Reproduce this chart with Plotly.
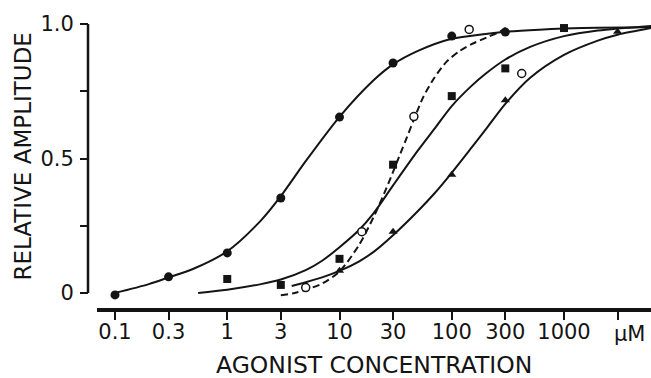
import plotly.graph_objects as go

# ---------------- data ----------------
# measured points
circ_x = [0.1, 0.3, 1, 3, 10, 30, 100, 300]
circ_y = [-0.007, 0.06, 0.149, 0.353, 0.654, 0.855, 0.955, 0.97]

sq_x = [1, 3, 10, 30, 100, 300, 1000]
sq_y = [0.052, 0.03, 0.127, 0.477, 0.732, 0.835, 0.985]

tri_x = [10, 30, 100, 300, 3000]
tri_y = [0.083, 0.228, 0.44, 0.717, 0.971]

open_x = [5, 15.8, 46, 143, 420]
open_y = [0.02, 0.228, 0.656, 0.98, 0.816]

# fitted curves
curve_a_x = [0.1, 0.2, 0.3, 0.5, 1, 2, 3, 5, 10, 20, 30, 50, 100, 200, 300, 600, 1000, 2000, 6000]
curve_a_y = [0.0, 0.033, 0.058, 0.09, 0.155, 0.27, 0.36, 0.49, 0.655, 0.79, 0.85, 0.9, 0.945, 0.963,
             0.971, 0.979, 0.983, 0.986, 0.988]

curve_b_x = [0.55, 1, 2, 3, 5, 7, 10, 15, 20, 30, 50, 70, 100, 150, 200, 300, 500, 1000, 2000, 6000]
curve_b_y = [0.0, 0.012, 0.033, 0.05, 0.085, 0.12, 0.17, 0.235, 0.295, 0.40, 0.53, 0.61, 0.695,
             0.77, 0.815, 0.868, 0.915, 0.955, 0.976, 0.993]

curve_c_x = [3.75, 5, 7, 10, 15, 20, 30, 50, 70, 100, 150, 200, 300, 500, 1000, 2000, 3000, 6000]
curve_c_y = [0.026, 0.04, 0.058, 0.082, 0.118, 0.152, 0.215, 0.305, 0.37, 0.447, 0.54, 0.607,
             0.703, 0.8, 0.885, 0.938, 0.96, 0.985]

curve_d_x = [3, 4, 5, 7, 10, 15, 20, 25, 30, 35, 40, 46, 56, 70, 90, 118, 150, 205, 270, 320]
curve_d_y = [-0.008, 0.0, 0.012, 0.035, 0.08, 0.18, 0.28, 0.37, 0.45, 0.52, 0.58, 0.645, 0.73,
             0.8, 0.86, 0.9, 0.925, 0.95, 0.972, 0.993]

x_tick_vals = [0.1, 0.3, 1, 3, 10, 30, 100, 300, 1000, 3000]
x_tick_text = ["0.1", "0.3", "1", "3", "10", "30", "100", "300", "1000", ""]
unit_label = "μM"
y_tick_vals = [0, 0.25, 0.5, 0.75, 1.0]
y_tick_text = ["0", "", "0.5", "", "1.0"]
x_title = "AGONIST CONCENTRATION"
y_title = "RELATIVE AMPLITUDE"

# ---------------- layout geometry ----------------
W, H = 651, 378
INK = "#141414"
FONT = "DejaVu Sans"

def px_x(p):
    return p / W

def px_y(p):
    return (H - p) / H

fig = go.Figure()

line_style = dict(color=INK, width=2, shape="spline", smoothing=0.8)
for cx, cy in [(curve_a_x, curve_a_y), (curve_b_x, curve_b_y), (curve_c_x, curve_c_y)]:
    fig.add_trace(go.Scatter(x=cx, y=cy, mode="lines", line=line_style,
                             hoverinfo="skip", showlegend=False))
fig.add_trace(go.Scatter(x=curve_d_x, y=curve_d_y, mode="lines",
                         line=dict(color=INK, width=2, shape="spline", smoothing=0.8, dash="7px,4px"),
                         hoverinfo="skip", showlegend=False))

fig.add_trace(go.Scatter(x=circ_x, y=circ_y, mode="markers", cliponaxis=False,
                         marker=dict(symbol="circle", size=9, color=INK), showlegend=False))
fig.add_trace(go.Scatter(x=sq_x, y=sq_y, mode="markers", cliponaxis=False,
                         marker=dict(symbol="square", size=8, color=INK), showlegend=False))
fig.add_trace(go.Scatter(x=tri_x, y=tri_y, mode="markers", cliponaxis=False,
                         marker=dict(symbol="triangle-up", size=8, color=INK), showlegend=False))
fig.add_trace(go.Scatter(x=open_x, y=open_y, mode="markers", cliponaxis=False,
                         marker=dict(symbol="circle", size=8, color="white",
                                     line=dict(color=INK, width=1.5)), showlegend=False))

# axis geometry: 0.1 -> px 115, 1000 -> px 564 ; y 0 -> px 293, 1 -> px 24
dec = (564 - 115) / 4.0
x_lo = -1 + (97 - 115) / dec
x_hi = -1 + (W - 115) / dec
unit = 293 - 24
y_lo = -(307.5 - 293) / unit
y_hi = 293 / unit

fig.update_layout(
    width=W, height=H,
    margin=dict(l=0, r=0, t=0, b=0),
    paper_bgcolor="white", plot_bgcolor="white",
    showlegend=False,
    font=dict(family=FONT, color=INK, size=21),
    xaxis=dict(type="log", range=[x_lo, x_hi], domain=[px_x(97), 1.0],
               showline=True, linewidth=3.5, linecolor=INK,
               ticks="outside", ticklen=9, tickwidth=2, tickcolor=INK,
               tickvals=x_tick_vals, ticktext=x_tick_text,
               tickfont=dict(family=FONT, size=21, color=INK),
               ticklabelstandoff=-6,
               showgrid=False, zeroline=False),
    yaxis=dict(range=[y_lo, y_hi], domain=[px_y(307.5), 1.0],
               anchor="free", position=px_x(88),
               showline=False, ticks="outside", ticklen=8, tickwidth=2, tickcolor=INK,
               tickvals=y_tick_vals, ticktext=y_tick_text,
               tickfont=dict(family=FONT, size=21, color=INK),
               ticklabelstandoff=2,
               showgrid=False, zeroline=False),
    shapes=[dict(type="line", xref="paper", yref="y", x0=px_x(88), x1=px_x(88), y0=0, y1=1.0,
                 line=dict(color=INK, width=2.5))],
    annotations=[
        dict(text=x_title, xref="paper", yref="paper", x=px_x(374), y=px_y(365),
             xanchor="center", yanchor="middle", showarrow=False,
             font=dict(family=FONT, size=23.5, color=INK)),
        dict(text=y_title, xref="paper", yref="paper", x=px_x(22), y=px_y(156.5),
             xanchor="center", yanchor="middle", showarrow=False, textangle=-90,
             font=dict(family=FONT, size=23, color=INK)),
        dict(text=unit_label, xref="paper", yref="paper", x=px_x(612), y=px_y(334),
             xanchor="left", yanchor="middle", showarrow=False,
             font=dict(family=FONT, size=21, color=INK)),
    ],
)

fig.write_html("out.html", config={"displayModeBar": False},
               post_script="document.body.style.margin='0px';document.body.style.overflow='hidden';")
